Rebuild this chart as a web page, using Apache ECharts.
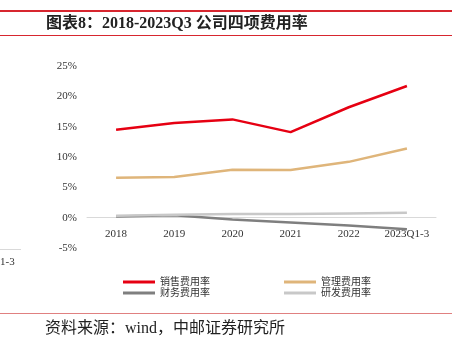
<!DOCTYPE html>
<html><head><meta charset="utf-8">
<script src="https://cdn.jsdelivr.net/npm/echarts@6/dist/echarts.min.js"></script>
<style>html,body{margin:0;padding:0;background:#fff}#c{width:457px;height:349px}</style>
</head><body><div id="c"></div>
<script>
var categories = ['2018','2019','2020','2021','2022','2023Q1-3'];
var sales = [14.5, 15.6, 16.2, 14.1, 18.2, 21.7];
var admin = [6.6, 6.7, 7.9, 7.85, 9.2, 11.4];
var finance = [0.2, 0.4, -0.3, -0.8, -1.3, -1.9];
var rd = [0.3, 0.5, 0.6, 0.6, 0.7, 0.8];
var names = ['销售费用率','管理费用率','财务费用率','研发费用率'];
var colors = ['#e60012','#dfb57a','#7f7f7f','#c8c8c8'];

var chart = echarts.init(document.getElementById('c'));
var serif = '"Liberation Serif","Noto Sans CJK SC",serif';
function mk(name, data, color){
  return {name:name, type:'line', data:data, symbol:'none', lineStyle:{width:2.5,color:color}, itemStyle:{color:color}};
}
var legendText = {fontSize:10,color:'#333',lineHeight:10,fontFamily:serif};
chart.setOption({
  animation:false,
  grid:{left:87,right:21,top:66,bottom:101},
  xAxis:{type:'category',data:categories,boundaryGap:true,
    axisLine:{onZero:true,lineStyle:{color:'#d9d9d9',width:1}},axisTick:{show:false},
    axisLabel:{color:'#333',fontFamily:serif,fontSize:11,margin:-19}},
  yAxis:{type:'value',min:-5,max:25,interval:5,
    axisLine:{show:false},axisTick:{show:false},splitLine:{show:false},
    axisLabel:{color:'#333',fontFamily:serif,fontSize:11,margin:10,formatter:'{value}%'}},
  legend:[
    {data:[names[0],names[2]],orient:'vertical',left:123,top:277,padding:0,icon:'rect',itemWidth:32,itemHeight:3,itemGap:1,
     textStyle:legendText},
    {data:[names[1],names[3]],orient:'vertical',left:284,top:277,padding:0,icon:'rect',itemWidth:32,itemHeight:3,itemGap:1,
     textStyle:legendText}
  ],
  series:[mk(names[0],sales,colors[0]),mk(names[1],admin,colors[1]),mk(names[2],finance,colors[2]),mk(names[3],rd,colors[3])],
  graphic:[
    {type:'rect',shape:{x:0,y:10,width:452,height:2},style:{fill:'#d7262f'}},
    {type:'rect',shape:{x:0,y:35,width:452,height:1},style:{fill:'#d7262f'}},
    {type:'text',left:46,top:16,style:{text:'图表8：2018-2023Q3 公司四项费用率',fill:'#222',font:'bold 16px "Liberation Serif","Noto Sans CJK SC",serif'}},
    {type:'rect',shape:{x:0,y:313,width:452,height:1},style:{fill:'#e08080'}},
    {type:'text',left:45,top:321,style:{text:'资料来源：wind，中邮证券研究所',fill:'#222',font:'16px "Liberation Serif","Noto Sans CJK SC",serif'}},
    {type:'rect',shape:{x:0,y:249,width:21,height:1},style:{fill:'#d9d9d9'}},
    {type:'text',left:0,top:257,style:{text:'1-3',fill:'#333',font:'11px "Liberation Serif",serif'}}
  ]
});
</script></body></html>
